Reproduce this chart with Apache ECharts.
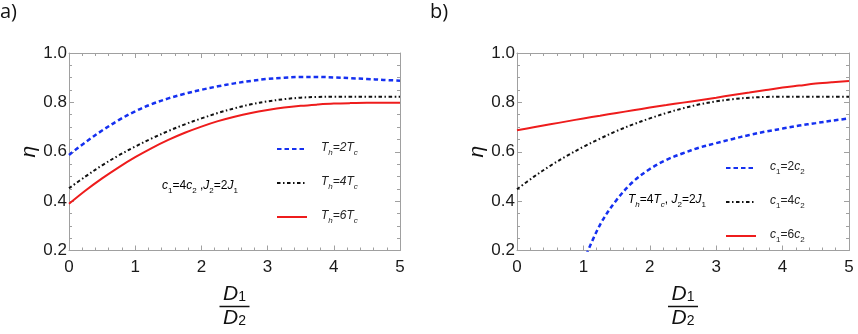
<!DOCTYPE html>
<html>
<head>
<meta charset="utf-8">
<script src="https://cdn.jsdelivr.net/npm/echarts@6/dist/echarts.min.js"></script>
<style>
  html, body { margin: 0; padding: 0; background: #fff; }
  #chart { width: 858px; height: 334px; }
</style>
</head>
<body>
<div id="chart"></div>
<script>
// D1/D2 sample points (shared by every curve)
const xs = [0, 0.25, 0.5, 0.75, 1, 1.25, 1.5, 1.75, 2, 2.25, 2.5, 2.75, 3, 3.25, 3.5, 3.75, 4, 4.25, 4.5, 4.75, 5];

// panel a) c1=4c2, J2=2J1
const aTh2 = [0.587, 0.639, 0.686, 0.728, 0.764, 0.793, 0.816, 0.835, 0.851, 0.865, 0.877, 0.887, 0.895, 0.9, 0.903, 0.903, 0.901, 0.898, 0.895, 0.891, 0.888];
const aTh4 = [0.452, 0.5, 0.545, 0.585, 0.621, 0.654, 0.684, 0.711, 0.735, 0.757, 0.776, 0.792, 0.804, 0.813, 0.819, 0.822, 0.823, 0.823, 0.823, 0.823, 0.823];
const aTh6 = [0.389, 0.443, 0.492, 0.537, 0.578, 0.615, 0.648, 0.677, 0.702, 0.724, 0.742, 0.757, 0.769, 0.779, 0.786, 0.791, 0.795, 0.797, 0.798, 0.798, 0.798];

// panel b) Th=4Tc, J2=2J1
const bC2 = [null, null, null, null, 0.155, 0.304, 0.405, 0.479, 0.53, 0.567, 0.594, 0.617, 0.635, 0.652, 0.668, 0.682, 0.694, 0.706, 0.716, 0.726, 0.735];
const bC4 = [0.448, 0.498, 0.543, 0.583, 0.62, 0.653, 0.684, 0.711, 0.735, 0.757, 0.776, 0.792, 0.804, 0.813, 0.819, 0.822, 0.823, 0.823, 0.823, 0.823, 0.823];
const bC6 = [0.687, 0.699, 0.711, 0.723, 0.735, 0.746, 0.757, 0.768, 0.779, 0.789, 0.799, 0.809, 0.819, 0.83, 0.84, 0.85, 0.86, 0.868, 0.876, 0.882, 0.887];

const yTicks = [0.2, 0.4, 0.6, 0.8, 1.0];

const BLUE = '#1530f0';
const BLACK = '#111111';
const RED = '#ee1c1c';
const FONT = 'Liberation Sans';

const legendText = {
  'Th=2Tc': '{i|T}{s|h}{i|=2T}{s|c}',
  'Th=4Tc': '{i|T}{s|h}{i|=4T}{s|c}',
  'Th=6Tc': '{i|T}{s|h}{i|=6T}{s|c}',
  'c1=2c2': '{i|c}{n|1}{u|=2}{i|c}{n|2}',
  'c1=4c2': '{i|c}{n|1}{u|=4}{i|c}{n|2}',
  'c1=6c2': '{i|c}{n|1}{u|=6}{i|c}{n|2}',
};

const rich = {
  i: { fontFamily: FONT, fontStyle: 'italic', fontSize: 12, color: '#222', verticalAlign: 'bottom', lineHeight: 16, padding: [0, 0, 3, 0] },
  u: { fontFamily: FONT, fontSize: 12, color: '#222', verticalAlign: 'bottom', lineHeight: 16, padding: [0, 0, 3, 0] },
  s: { fontFamily: FONT, fontStyle: 'italic', fontSize: 8, color: '#222', verticalAlign: 'bottom', lineHeight: 16 },
  n: { fontFamily: FONT, fontSize: 8, color: '#222', verticalAlign: 'bottom', lineHeight: 16 },
};

const pts = (arr) => xs.map((x, i) => [x, arr[i]]);

function xAxisFor(gridIndex, top) {
  return {
    type: 'value', gridIndex, min: 0, max: 5, interval: 1,
    position: top ? 'top' : 'bottom',
    name: top ? '' : '{d|D}{n|1}\n{bar| }\n{d|D}{n|2}',
    nameLocation: 'middle', nameGap: 34,
    nameTextStyle: {
      rich: {
        d: { fontFamily: FONT, fontStyle: 'italic', fontSize: 21, color: '#111', lineHeight: 20 },
        n: { fontFamily: FONT, fontSize: 14, color: '#111', lineHeight: 20, verticalAlign: 'bottom' },
        bar: { width: 30, height: 1.5, backgroundColor: '#111', lineHeight: 4, fontSize: 1 },
      },
    },
    axisLine: { show: true, onZero: false, lineStyle: { color: '#a0a0a0', width: 1 } },
    axisTick: { show: true, inside: true, length: 5, lineStyle: { color: '#a0a0a0' } },
    minorTick: { show: true, splitNumber: 5, length: 3, lineStyle: { color: '#a0a0a0' } },
    axisLabel: { show: !top, margin: 8, fontFamily: FONT, fontSize: 17, color: '#1a1a1a' },
    splitLine: { show: false },
  };
}

function yAxisFor(gridIndex, right) {
  return {
    type: 'value', gridIndex, min: 0.2, max: 1.0, interval: 0.2,
    position: right ? 'right' : 'left',
    name: right ? '' : 'η',
    nameLocation: 'middle', nameGap: 27, nameRotate: 90,
    nameTextStyle: { fontFamily: FONT, fontStyle: 'italic', fontSize: 21, color: '#111' },
    axisLine: { show: true, onZero: false, lineStyle: { color: '#a0a0a0', width: 1 } },
    axisTick: { show: true, inside: true, length: 5, lineStyle: { color: '#a0a0a0' } },
    minorTick: { show: true, splitNumber: 4, length: 3, lineStyle: { color: '#a0a0a0' } },
    axisLabel: {
      show: !right, margin: 2, fontFamily: FONT, fontSize: 17, color: '#1a1a1a',
      formatter: (v) => (yTicks.some((t) => Math.abs(t - v) < 1e-6) ? v.toFixed(1) : ''),
    },
    splitLine: { show: false },
  };
}

function curve(name, data, axisIdx, color, type, width) {
  return {
    name, type: 'line', xAxisIndex: axisIdx, yAxisIndex: axisIdx,
    data: pts(data), smooth: 0.35, showSymbol: false, symbol: 'none',
    clip: true, connectNulls: false,
    lineStyle: { color, type, width }, itemStyle: { color },
    emphasis: { disabled: true }, z: 3,
  };
}

const dashBlue = [4.5, 3];
const dashDot = [3.5, 2.5, 1.5, 2.5];

const legendBase = {
  orient: 'vertical', padding: 0,
  itemWidth: 30, itemHeight: 14, itemGap: 19, selectedMode: false,
  itemStyle: { opacity: 0, borderWidth: 0 },
  formatter: (n) => legendText[n],
  textStyle: { rich, padding: [0, 0, 0, 9] },
};

const chart = echarts.init(document.getElementById('chart'));
chart.setOption({
  animation: false,
  grid: [
    { left: 69, right: 458, top: 53, bottom: 83 },
    { left: 517, right: 9, top: 53, bottom: 83 },
  ],
  xAxis: [xAxisFor(0, false), xAxisFor(1, false), xAxisFor(0, true), xAxisFor(1, true)],
  yAxis: [yAxisFor(0, false), yAxisFor(1, false), yAxisFor(0, true), yAxisFor(1, true)],
  legend: [
    { ...legendBase, data: ['Th=2Tc', 'Th=4Tc', 'Th=6Tc'], left: 276, top: 142 },
    { ...legendBase, data: ['c1=2c2', 'c1=4c2', 'c1=6c2'], left: 725, top: 161 },
  ],
  graphic: [
    { type: 'text', left: 0, top: 2, style: { text: 'a)', fontFamily: 'Open Sans', fontSize: 20, fill: '#111' } },
    { type: 'text', left: 430, top: 2, style: { text: 'b)', fontFamily: 'Open Sans', fontSize: 20, fill: '#111' } },
    { type: 'text', left: 162, top: 180, style: { text: '{i|c}{n|1}{u|=4}{i|c}{n|2}{u| ,}{i|J}{n|2}{u|=2}{i|J}{n|1}', rich } },
    { type: 'text', left: 628, top: 194, style: { text: '{i|T}{s|h}{u|=4}{i|T}{s|c}{u|, }{i|J}{n|2}{u|=2}{i|J}{n|1}', rich } },
  ],
  series: [
    curve('Th=2Tc', aTh2, 0, BLUE, dashBlue, 2.5),
    curve('Th=4Tc', aTh4, 0, BLACK, dashDot, 2),
    curve('Th=6Tc', aTh6, 0, RED, 'solid', 2),
    curve('c1=2c2', bC2, 1, BLUE, dashBlue, 2.5),
    curve('c1=4c2', bC4, 1, BLACK, dashDot, 2),
    curve('c1=6c2', bC6, 1, RED, 'solid', 2),
  ],
});
</script>
</body>
</html>
